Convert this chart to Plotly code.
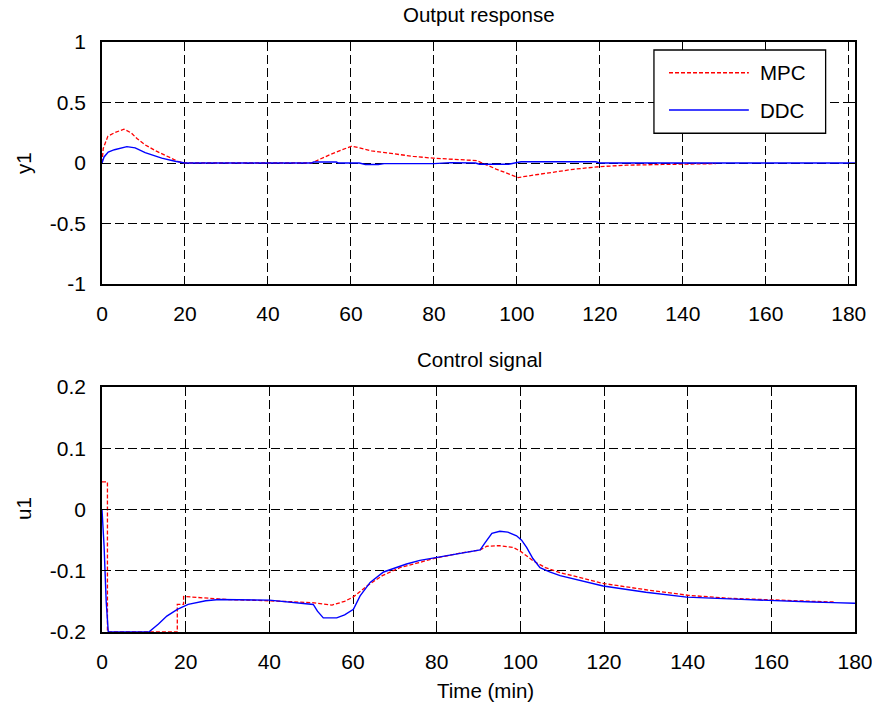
import plotly.graph_objects as go

# ---------------- data ----------------
# Output response y1
mpc_y1_t = [0, 0.3, 1.4, 3, 5.3, 7, 8.5, 10.4, 13, 15.2, 18.4, 20, 50, 50.5, 55, 60.2, 65, 71.8, 75, 79.8, 85, 90.3, 95, 100.3, 105, 110, 113.6, 120, 126.4, 135, 140, 148]
mpc_y1 = [0, 0.12, 0.22, 0.25, 0.28, 0.25, 0.2, 0.15, 0.1, 0.066, 0.012, 0, 0, 0, 0.07, 0.14, 0.1, 0.066, 0.055, 0.04, 0.03, 0.02, -0.05, -0.12, -0.095, -0.07, -0.052, -0.03, -0.018, -0.012, -0.008, -0.005]

ddc_y1_t = [0, 0.5, 1.5, 3, 6, 8, 10.4, 14.4, 17.6, 20, 50.5, 51, 56.5, 57, 62, 63.5, 66.6, 68, 80, 84, 90, 91, 98, 101, 119, 120, 181.5]
ddc_y1 = [0, 0.05, 0.09, 0.11, 0.135, 0.125, 0.085, 0.04, 0.015, 0, 0, 0.008, 0.008, 0, 0, -0.012, -0.012, -0.005, -0.005, 0.003, 0, -0.01, -0.01, 0.01, 0.01, 0, 0]

# Control signal u1
mpc_u1_t = [0, 1.3, 1.3, 18, 18, 19.5, 19.5, 25, 30, 40, 50, 55, 58, 60, 63.3, 67, 71.2, 75, 80, 85, 90.4, 92, 95, 98.3, 100, 103.1, 106, 109.5, 115, 120, 130, 140, 150, 160, 170, 175]
mpc_u1 = [0.045, 0.045, -0.2, -0.2, -0.155, -0.155, -0.142, -0.145, -0.147, -0.149, -0.152, -0.156, -0.15, -0.143, -0.125, -0.108, -0.095, -0.088, -0.079, -0.072, -0.066, -0.06, -0.059, -0.062, -0.068, -0.084, -0.095, -0.103, -0.113, -0.121, -0.131, -0.14, -0.145, -0.148, -0.15, -0.151]

ddc_u1_t = [0, 0.5, 1, 1.5, 11.2, 13.5, 15.5, 18, 20.6, 24.8, 28, 35, 40, 50.5, 51.5, 52.9, 56.1, 58, 60.1, 61.7, 64.1, 67.3, 70, 72.8, 76, 80, 85, 90.4, 91.5, 93.2, 95.1, 97, 99.1, 100.3, 101.5, 103, 104.7, 107, 109.5, 115, 119.8, 130, 139.8, 150, 159.7, 170, 174.8, 180]
ddc_u1 = [0, -0.06, -0.15, -0.2, -0.2, -0.187, -0.174, -0.163, -0.155, -0.149, -0.147, -0.147, -0.148, -0.155, -0.166, -0.177, -0.177, -0.172, -0.163, -0.141, -0.119, -0.102, -0.095, -0.089, -0.083, -0.078, -0.072, -0.066, -0.055, -0.039, -0.0355, -0.037, -0.043, -0.05, -0.062, -0.08, -0.095, -0.102, -0.108, -0.117, -0.125, -0.135, -0.143, -0.146, -0.149, -0.151, -0.152, -0.153]

x_ticks = [0, 20, 40, 60, 80, 100, 120, 140, 160, 180]
y1_ticks = [-1, -0.5, 0, 0.5, 1]
y1_labels = ["-1", "-0.5", "0", "0.5", "1"]
u1_ticks = [-0.2, -0.1, 0, 0.1, 0.2]
u1_labels = ["-0.2", "-0.1", "0", "0.1", "0.2"]

# ---------------- figure ----------------
FONT = "Liberation Sans, Arial, Helvetica, sans-serif"
FS_TICK = 21
FS_TXT = 20.5
RED = "#ff0000"
BLUE = "#0000ff"

fig = go.Figure()
fig.add_trace(go.Scatter(x=mpc_y1_t, y=mpc_y1, mode="lines", name="MPC",
                         line=dict(color=RED, width=1.3, dash="4px,2px"),
                         xaxis="x", yaxis="y", showlegend=False))
fig.add_trace(go.Scatter(x=ddc_y1_t, y=ddc_y1, mode="lines", name="DDC",
                         line=dict(color=BLUE, width=1.4),
                         xaxis="x", yaxis="y", showlegend=False))
fig.add_trace(go.Scatter(x=mpc_u1_t, y=mpc_u1, mode="lines", name="MPC",
                         line=dict(color=RED, width=1.3, dash="4px,2px"),
                         xaxis="x2", yaxis="y2", showlegend=False))
fig.add_trace(go.Scatter(x=ddc_u1_t, y=ddc_u1, mode="lines", name="DDC",
                         line=dict(color=BLUE, width=1.4),
                         xaxis="x2", yaxis="y2", showlegend=False))

axis_common = dict(
    showline=True, linecolor="black", linewidth=1.5, mirror="allticks",
    ticks="inside", ticklen=6, tickcolor="black", tickwidth=1,
    showgrid=True, gridcolor="black", gridwidth=1, griddash="9px,4px",
    zeroline=False, ticklabeloverflow="allow", automargin=False,
    tickfont=dict(family=FONT, size=FS_TICK, color="black"),
)
xcommon = dict(axis_common, ticklabelstandoff=10)
ycommon = dict(axis_common, ticklabelstandoff=10)

fig.update_layout(
    width=872, height=716, autosize=False,
    margin=dict(l=102, r=17, t=42, b=84),
    paper_bgcolor="white", plot_bgcolor="white",
    font=dict(family=FONT, size=FS_TXT, color="black"),
    xaxis=dict(domain=[0, 1], range=[0, 181.5], tickvals=x_ticks,
               anchor="y", **xcommon),
    yaxis=dict(domain=[0.5898, 1], range=[-1, 1], tickvals=y1_ticks,
               ticktext=y1_labels, anchor="x", **ycommon),
    xaxis2=dict(domain=[0, 1], range=[0, 180], tickvals=x_ticks,
                anchor="y2", **xcommon),
    yaxis2=dict(domain=[0, 0.4153], range=[-0.2, 0.2], tickvals=u1_ticks,
                ticktext=u1_labels, anchor="x2", **ycommon),
)

# ---------------- legend (drawn in axis-domain space) ----------------
fig.add_shape(type="rect", xref="x domain", yref="y domain",
              x0=0.733, x1=0.961, y0=0.623, y1=0.967,
              line=dict(color="black", width=1.3), fillcolor="white", layer="above")
fig.add_shape(type="line", xref="x domain", yref="y domain",
              x0=0.753, x1=0.859, y0=0.873, y1=0.873,
              line=dict(color=RED, width=1.3, dash="4px,2px"), layer="above")
fig.add_shape(type="line", xref="x domain", yref="y domain",
              x0=0.753, x1=0.859, y0=0.719, y1=0.719,
              line=dict(color=BLUE, width=1.4), layer="above")
fig.add_annotation(xref="x domain", yref="y domain", x=0.871, y=0.873,
                   text="MPC", showarrow=False, xanchor="left", yanchor="middle",
                   font=dict(family=FONT, size=FS_TXT))
fig.add_annotation(xref="x domain", yref="y domain", x=0.871, y=0.719,
                   text="DDC", showarrow=False, xanchor="left", yanchor="middle",
                   font=dict(family=FONT, size=FS_TXT))

# ---------------- titles / labels ----------------
def px_ann(text, x_px, y_px, angle=0):
    fig.add_annotation(xref="paper", yref="paper",
                       x=(x_px - 102) / 753, y=(632 - y_px) / 590,
                       text=text, showarrow=False, textangle=angle,
                       xanchor="center", yanchor="middle",
                       font=dict(family=FONT, size=FS_TXT, color="black"))

px_ann("Output response", 479, 15)
px_ann("Control signal", 479, 360)
px_ann("Time (min)", 485, 690)
px_ann("y1", 23, 163, -90)
px_ann("u1", 23, 509, -90)

# remove the browser's default 8px body margin so the figure fills the window
fig.write_html(
    "out.html",
    config={"displayModeBar": False, "responsive": False},
    post_script=(
        "document.documentElement.style.overflow='hidden';"
        "document.body.style.margin='0px';"
        "document.body.style.overflow='hidden';"
    ),
)
